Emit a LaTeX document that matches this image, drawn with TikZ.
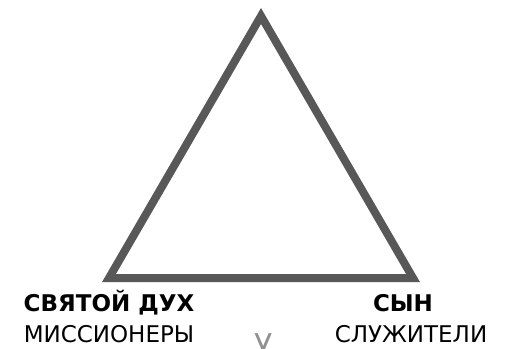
\documentclass[tikz,border=0pt]{standalone}
\usepackage{fontspec}
\setmainfont{DejaVu Sans}
\usetikzlibrary{positioning}
\definecolor{edgegray}{RGB}{88,88,88}
\definecolor{markgray}{RGB}{145,145,145}

\begin{document}
\begin{tikzpicture}[x=1pt,y=-1pt,
  side/.style={draw=edgegray, line width=8pt, line join=miter},
  headlbl/.style={font=\fontsize{23}{26}\selectfont\bfseries, inner sep=0pt},
  sublbl/.style={font=\fontsize{23}{26}\selectfont, inner sep=0pt},
]
\useasboundingbox (0,0) rectangle (508,348);

% corners of the triangle
\coordinate (apex) at (261,16);
\coordinate (left) at (109,278);
\coordinate (right) at (413,278);
\draw[side] (apex) -- (left) -- (right) -- cycle;

% corner labels
\node[headlbl, anchor=base] (spirit) at (109,311) {СВЯТОЙ ДУХ};
\node[sublbl, anchor=base] (missio) at (109,342.5) {МИССИОНЕРЫ};
\node[headlbl, anchor=base] (son) at (403,311) {СЫН};
\node[sublbl, anchor=base] (minist) at (411,342.5) {СЛУЖИТЕЛИ};

\node[sublbl, font=\fontsize{30}{32}\selectfont, text=markgray, anchor=north] (mark) at (264,333) {У};

\end{tikzpicture}
\end{document}
